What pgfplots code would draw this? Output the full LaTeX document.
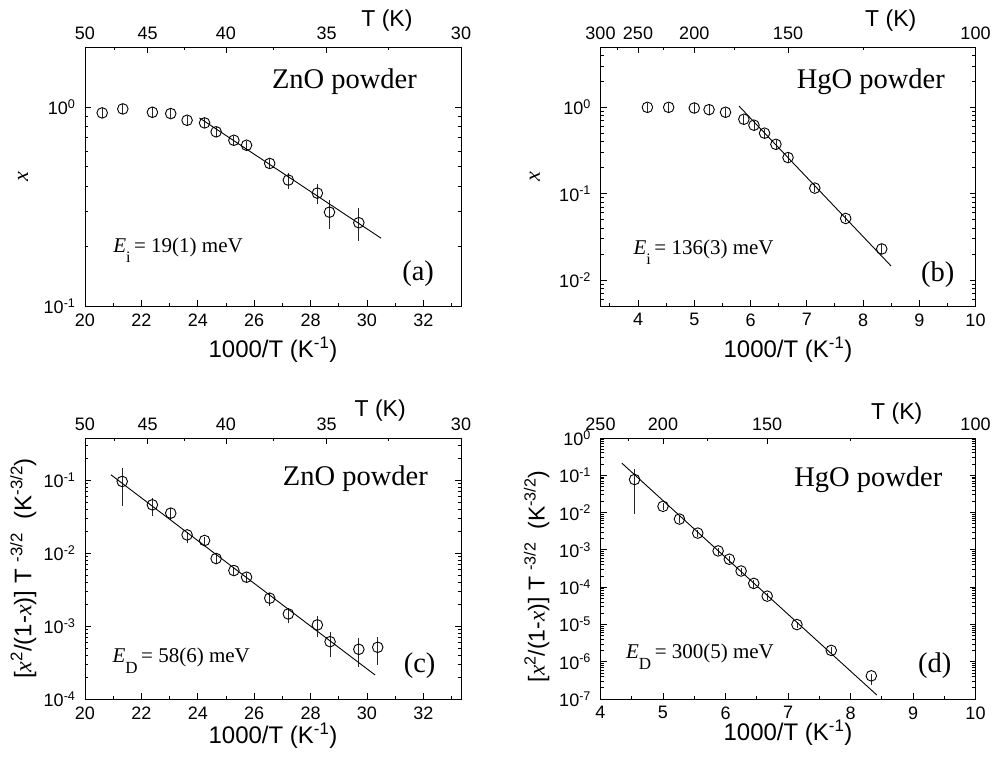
\documentclass[border=0pt]{standalone}
\usepackage{pgfplots}
\pgfplotsset{compat=1.18}
\usepackage{fontspec}
\setmainfont{Liberation Sans}
\newfontfamily\tnr{Liberation Serif}

\pgfplotsset{
  panelax/.style={
    scale only axis, anchor=south west,
    axis line style={line width=0.9pt},
    tick align=inside, major tick length=6pt, minor tick length=3.5pt,
    every tick/.style={line width=0.8pt, black},
    tick label style={font=\fontsize{18}{20}\selectfont},
    yticklabel style={xshift=-6pt},
    xticklabel style={yshift=-4pt},
    xtick pos=left,
    label style={font=\fontsize{24}{26}\selectfont},
  },
  topax/.style={
    scale only axis, anchor=south west,
    axis x line*=top, hide y axis, ymin=0, ymax=1,
    axis line style={line width=0.9pt},
    tick align=inside, major tick length=6pt, minor tick length=3.5pt,
    every tick/.style={line width=0.8pt, black},
    tick label style={font=\fontsize{18}{20}\selectfont},
    xticklabel style={yshift=4pt},
    xlabel={T (K)},
    label style={font=\fontsize{23}{25}\selectfont},
  },
  ptsty/.style={black, only marks, mark=o, mark size=5.3pt, mark options={line width=0.9pt}},
  ebsty/.style={black!85, no marks, line width=0.8pt, forget plot},
  fitsty/.style={black, no marks, line width=0.9pt},
}
% one error bar: x, low end, high end
\newcommand{\eb}[3]{\addplot[ebsty] coordinates {(#1,#2) (#1,#3)};}
\newcommand{\bigtxt}{\fontsize{28.5}{30}\selectfont\tnr}
\newcommand{\midtxt}{\fontsize{21}{23}\selectfont\tnr}

\begin{document}
\begin{tikzpicture}
\useasboundingbox (0pt,0pt) rectangle (994pt,760pt);

% ---------- (a) ZnO, x ----------
\begin{axis}[panelax, ymode=log, at={(85pt,454pt)}, width=376pt, height=259pt,
  xmin=20, xmax=33.3333, ymin=0.1, ymax=2,
  xtick={20,22,...,32}, xticklabels={20,22,24,26,28,30,32}, minor xtick={21,23,...,33},
  ytick={0.1,1}, yticklabels={10\textsuperscript{-1},10\textsuperscript{0}},
  minor ytick={0.2,0.3,0.4,0.5,0.6,0.7,0.8,0.9},
  xlabel={1000/T (K\textsuperscript{-1})},
  xlabel style={at={(axis description cs:0.5,0)}, anchor=center, yshift=-44pt},
  ylabel={\fontsize{22}{24}\selectfont\tnr\itshape x},
  ylabel style={at={(axis description cs:-0.165,0.5)}, anchor=center},
]
\eb{20.61}{0.878}{0.988}
\eb{21.34}{0.922}{1.032}
\eb{22.39}{0.885}{0.995}
\eb{23.04}{0.876}{0.976}
\eb{23.62}{0.812}{0.902}
\eb{24.24}{0.786}{0.876}
\eb{24.65}{0.708}{0.792}
\eb{25.28}{0.645}{0.715}
\eb{25.73}{0.607}{0.677}
\eb{26.55}{0.490}{0.550}
\eb{27.21}{0.389}{0.463}
\eb{28.24}{0.327}{0.412}
\eb{28.67}{0.245}{0.340}
\eb{29.71}{0.213}{0.309}
\addplot[ptsty] table[x=x, y=y] {
x y
20.61 0.933
21.34 0.977
22.39 0.940
23.04 0.926
23.62 0.857
24.24 0.831
24.65 0.750
25.28 0.680
25.73 0.642
26.55 0.520
27.21 0.429
28.24 0.369
28.67 0.296
29.71 0.262
};
\addplot[fitsty] coordinates {(24.06,0.88) (30.5,0.219)};
\node[font=\bigtxt] at (rel axis cs:0.69,0.865) {ZnO powder};
\node[font=\midtxt, anchor=base west] at (rel axis cs:0.066,0.205)
  {{\itshape E}\raisebox{-10pt}{\fontsize{16}{16}\selectfont i}\,= 19(1) meV};
\node[font=\bigtxt] at (rel axis cs:0.886,0.124) {(a)};
\end{axis}
\begin{axis}[topax, at={(85pt,454pt)}, width=376pt, height=259pt,
  xmin=20, xmax=33.3333,
  xtick={20,22.2222,25,28.5714,33.3333}, xticklabels={50,45,40,35,30},
  minor xtick={21.0526,23.5294,26.6667,30.7692},
  xlabel style={at={(axis description cs:0.803,1)}, anchor=center, yshift=26pt},
]
\end{axis}

% ---------- (b) HgO, x ----------
\begin{axis}[panelax, ymode=log, at={(600.5pt,454pt)}, width=375pt, height=259pt,
  xmin=3.3333, xmax=10, ymin=0.005, ymax=5,
  xtick={4,...,10}, xticklabels={4,5,6,7,8,9,10}, minor xtick={3.5,4.5,...,9.5},
  ytick={0.01,0.1,1}, yticklabels={10\textsuperscript{-2},10\textsuperscript{-1},10\textsuperscript{0}},
  minor ytick={0.006,0.007,0.008,0.009,0.02,0.03,0.04,0.05,0.06,0.07,0.08,0.09,0.2,0.3,0.4,0.5,0.6,0.7,0.8,0.9,2,3,4},
  xlabel={1000/T (K\textsuperscript{-1})},
  xlabel style={at={(axis description cs:0.5,0)}, anchor=center, yshift=-44pt},
  ylabel={\fontsize{22}{24}\selectfont\tnr\itshape x},
  ylabel style={at={(axis description cs:-0.175,0.5)}, anchor=center},
]
\eb{4.167}{0.87}{1.13}
\eb{4.545}{0.87}{1.13}
\eb{5.000}{0.852}{1.112}
\eb{5.263}{0.82}{1.06}
\eb{5.556}{0.767}{0.987}
\eb{5.882}{0.638}{0.818}
\eb{6.061}{0.541}{0.701}
\eb{6.250}{0.442}{0.562}
\eb{6.452}{0.328}{0.418}
\eb{6.667}{0.232}{0.292}
\eb{7.143}{0.104}{0.128}
\eb{7.692}{0.0466}{0.0566}
\eb{8.333}{0.0199}{0.0259}
\addplot[ptsty] table[x=x, y=y] {
x y
4.167 1.000
4.545 1.000
5.000 0.982
5.263 0.940
5.556 0.877
5.882 0.728
6.061 0.621
6.250 0.502
6.452 0.373
6.667 0.262
7.143 0.116
7.692 0.0516
8.333 0.0229
};
\addplot[fitsty] coordinates {(5.795,1.035) (8.50,0.0145)};
\node[font=\bigtxt] at (rel axis cs:0.721,0.865) {HgO powder};
\node[font=\midtxt, anchor=base west] at (rel axis cs:0.079,0.197)
  {{\itshape E}\raisebox{-10pt}{\fontsize{16}{16}\selectfont i}\,= 136(3) meV};
\node[font=\bigtxt] at (rel axis cs:0.899,0.12) {(b)};
\end{axis}
\begin{axis}[topax, at={(600.5pt,454pt)}, width=375pt, height=259pt,
  xmin=3.3333, xmax=10,
  xtick={3.3333,4,5,6.6667,10}, xticklabels={300,250,200,150,100},
  minor xtick={3.6364,4.4444,5.7143,8},
  xlabel style={at={(axis description cs:0.774,1)}, anchor=center, yshift=26pt},
]
\end{axis}

% ---------- (c) ZnO, mass action ----------
\begin{axis}[panelax, ymode=log, at={(85pt,61pt)}, width=376pt, height=261pt,
  xmin=20, xmax=33.3333, ymin=1e-4, ymax=0.383,
  xtick={20,22,...,32}, xticklabels={20,22,24,26,28,30,32}, minor xtick={21,23,...,33},
  ytick={1e-4,1e-3,1e-2,1e-1},
  yticklabels={10\textsuperscript{-4},10\textsuperscript{-3},10\textsuperscript{-2},10\textsuperscript{-1}},
  minor ytick={2e-4,3e-4,4e-4,5e-4,6e-4,7e-4,8e-4,9e-4,2e-3,3e-3,4e-3,5e-3,6e-3,7e-3,8e-3,9e-3,0.02,0.03,0.04,0.05,0.06,0.07,0.08,0.09,0.2,0.3},
  xlabel={1000/T (K\textsuperscript{-1})},
  xlabel style={at={(axis description cs:0.5,0)}, anchor=center, yshift=-37pt},
  ylabel={[{\tnr\itshape x}\textsuperscript{2}/(1-{\tnr\itshape x})] T \textsuperscript{-3/2}\ \ (K\textsuperscript{-3/2})},
  ylabel style={at={(axis description cs:-0.164,0.5)}, anchor=center},
]
\eb{21.32}{0.044}{0.148}
\eb{22.39}{0.0327}{0.0572}
\eb{23.04}{0.0288}{0.0417}
\eb{23.62}{0.0138}{0.0199}
\eb{24.24}{0.0128}{0.0170}
\eb{24.65}{0.00731}{0.00952}
\eb{25.28}{0.00506}{0.00658}
\eb{25.73}{0.00409}{0.00533}
\eb{26.55}{0.00190}{0.00283}
\eb{27.21}{0.00109}{0.00176}
\eb{28.24}{0.000718}{0.00138}
\eb{28.69}{0.000373}{0.000841}
\eb{29.71}{0.000272}{0.000695}
\eb{30.38}{0.000293}{0.000718}
\addplot[ptsty] table[x=x, y=y] {
x y
21.32 0.0969
22.39 0.0463
23.04 0.0356
23.62 0.0179
24.24 0.0150
24.65 0.00848
25.28 0.00580
25.73 0.00470
26.55 0.00242
27.21 0.00147
28.24 0.00104
28.69 0.000612
29.71 0.000481
30.38 0.000513
};
\addplot[fitsty] coordinates {(20.92,0.1197) (30.29,0.000213)};
\node[font=\bigtxt] at (rel axis cs:0.719,0.846) {ZnO powder};
\node[font=\midtxt, anchor=base west] at (rel axis cs:0.064,0.139)
  {{\itshape E}\raisebox{-11pt}{\fontsize{17}{17}\selectfont D}\,= 58(6) meV};
\node[font=\bigtxt] at (rel axis cs:0.89,0.126) {(c)};
\end{axis}
\begin{axis}[topax, at={(85pt,61pt)}, width=376pt, height=261pt,
  xmin=20, xmax=33.3333,
  xtick={20,22.2222,25,28.5714,33.3333}, xticklabels={50,45,40,35,30},
  minor xtick={21.0526,23.5294,26.6667,30.7692},
  xlabel style={at={(axis description cs:0.785,1)}, anchor=center, yshift=27pt},
]
\end{axis}

% ---------- (d) HgO, mass action ----------
\begin{axis}[panelax, ymode=log, at={(600.5pt,61pt)}, width=375pt, height=261pt,
  xmin=4, xmax=10, ymin=1e-7, ymax=1,
  xtick={4,...,10}, xticklabels={4,5,6,7,8,9,10}, minor xtick={4.5,5.5,...,9.5},
  ytick={1e-7,1e-6,1e-5,1e-4,1e-3,1e-2,1e-1,1},
  yticklabels={10\textsuperscript{-7},10\textsuperscript{-6},10\textsuperscript{-5},10\textsuperscript{-4},10\textsuperscript{-3},10\textsuperscript{-2},10\textsuperscript{-1},10\textsuperscript{0}},
  minor ytick={2e-7,3e-7,4e-7,5e-7,6e-7,7e-7,8e-7,9e-7,
    2e-6,3e-6,4e-6,5e-6,6e-6,7e-6,8e-6,9e-6,
    2e-5,3e-5,4e-5,5e-5,6e-5,7e-5,8e-5,9e-5,
    2e-4,3e-4,4e-4,5e-4,6e-4,7e-4,8e-4,9e-4,
    2e-3,3e-3,4e-3,5e-3,6e-3,7e-3,8e-3,9e-3,
    0.02,0.03,0.04,0.05,0.06,0.07,0.08,0.09,
    0.2,0.3,0.4,0.5,0.6,0.7,0.8,0.9},
  xlabel={1000/T (K\textsuperscript{-1})},
  xlabel style={at={(axis description cs:0.5,0)}, anchor=center, yshift=-34pt},
  ylabel={[{\tnr\itshape x}\textsuperscript{2}/(1-{\tnr\itshape x})] T \textsuperscript{-3/2}\ \ (K\textsuperscript{-3/2})},
  ylabel style={at={(axis description cs:-0.17,0.47)}, anchor=center, font=\fontsize{23}{25}\selectfont},
]
\eb{4.545}{0.00912}{0.143}
\eb{5.000}{0.0117}{0.0177}
\eb{5.263}{0.0053}{0.0081}
\eb{5.556}{0.00221}{0.00341}
\eb{5.882}{0.000737}{0.00114}
\eb{6.061}{0.00044}{0.00068}
\eb{6.250}{0.000211}{0.000331}
\eb{6.452}{0.000096}{0.000156}
\eb{6.667}{4.54e-5}{6.94e-5}
\eb{7.143}{7.9e-6}{1.19e-5}
\eb{7.692}{1.61e-6}{2.41e-6}
\eb{8.333}{2.4e-7}{4.7e-7}
\addplot[ptsty] table[x=x, y=y] {
x y
4.545 0.0769
5.000 0.0147
5.263 0.0067
5.556 0.00281
5.882 0.000937
6.061 0.00056
6.250 0.000271
6.452 0.000126
6.667 5.74e-5
7.143 9.9e-6
7.692 2.01e-6
8.333 4.18e-7
};
\addplot[fitsty] coordinates {(4.341,0.212) (8.421,1.28e-7)};
\node[font=\bigtxt] at (rel axis cs:0.714,0.842) {HgO powder};
\node[font=\midtxt, anchor=base west] at (rel axis cs:0.059,0.156)
  {{\itshape E}\raisebox{-11pt}{\fontsize{17}{17}\selectfont D}\,= 300(5) meV};
\node[font=\bigtxt] at (rel axis cs:0.891,0.126) {(d)};
\end{axis}
\begin{axis}[topax, at={(600.5pt,61pt)}, width=375pt, height=261pt,
  xmin=4, xmax=10,
  xtick={4,5,6.6667,10}, xticklabels={250,200,150,100},
  minor xtick={4.4444,5.7143,8},
  xlabel style={at={(axis description cs:0.79,1)}, anchor=center, yshift=24pt},
]
\end{axis}
\end{tikzpicture}
\end{document}
